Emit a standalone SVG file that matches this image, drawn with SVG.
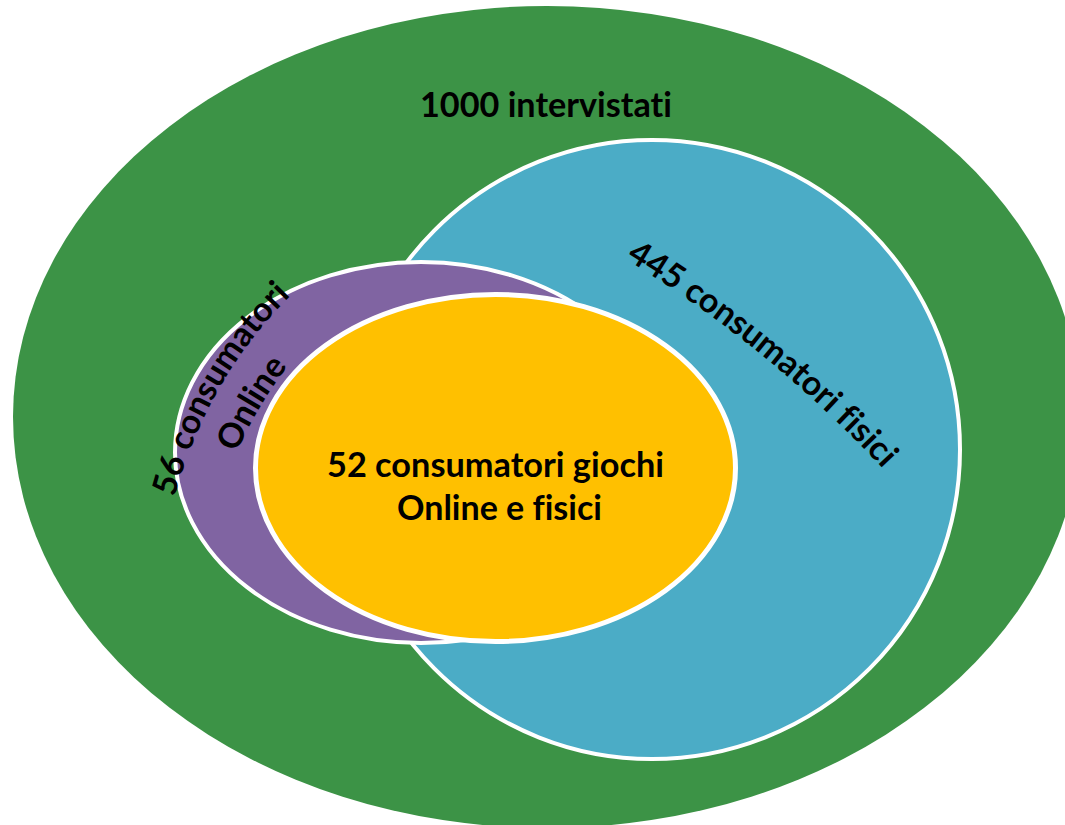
<svg xmlns="http://www.w3.org/2000/svg" width="1065" height="825" viewBox="0 0 1065 825">
  <style>
    .lbl { font-family: Lato, "Open Sans", "Liberation Sans", sans-serif; font-weight: 700; font-size: 34px; fill: #000; font-variant-ligatures: none; }
    .ring { stroke: #FFFFFF; }
  </style>
  <defs>
    <path id="p445" d="M548,216 A1200,1200 0 0 1 941,536" fill="none"/>
    <path id="p56" d="M162.9,560.1 A445,445 0 0 1 339.1,253.7" fill="none"/>
    <path id="pOnline" d="M219,503 A400,400 0 0 1 323,326.6" fill="none"/>
  </defs>
  <rect width="1065" height="825" fill="#FFFFFF"/>
  <g id="intervistati">
    <ellipse cx="547" cy="417" rx="534" ry="411" fill="#3C9346"/>
    <text class="lbl" x="546" y="117" text-anchor="middle" textLength="252" lengthAdjust="spacingAndGlyphs">1000 intervistati</text>
  </g>
  <g id="fisici">
    <ellipse class="ring" cx="652" cy="449.5" rx="308" ry="309.5" fill="#4BACC6" stroke-width="4"/>
    <text class="lbl"><textPath href="#p445" startOffset="50%" text-anchor="middle">445 consumatori fisici</textPath></text>
  </g>
  <g id="online">
    <ellipse class="ring" cx="421" cy="452.5" rx="246" ry="190.5" fill="#8064A2" stroke-width="4"/>
    <text class="lbl"><textPath href="#p56" startOffset="50%" text-anchor="middle">56 consumatori</textPath></text>
    <text class="lbl"><textPath href="#pOnline" startOffset="50%" text-anchor="middle">Online</textPath></text>
  </g>
  <g id="entrambi">
    <ellipse class="ring" cx="495.5" cy="468" rx="240" ry="173.5" fill="#FFC000" stroke-width="5"/>
    <text class="lbl" x="495.5" y="477" text-anchor="middle" textLength="337" lengthAdjust="spacingAndGlyphs">52 consumatori giochi</text>
    <text class="lbl" x="499.5" y="520" text-anchor="middle" textLength="205" lengthAdjust="spacingAndGlyphs">Online e fisici</text>
  </g>
  <g id="connectors"/>
</svg>
